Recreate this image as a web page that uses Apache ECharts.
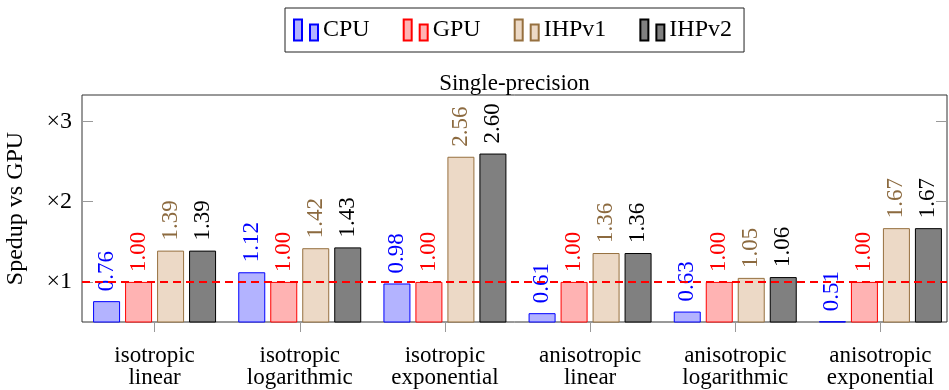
<!DOCTYPE html>
<html>
<head>
<meta charset="utf-8">
<script src="https://cdn.jsdelivr.net/npm/echarts@6/dist/echarts.min.js"></script>
<style>
  html, body { margin: 0; padding: 0; background: #fff; }
  #chart { width: 949px; height: 390px; }
</style>
</head>
<body>
<div id="chart"></div>
<script>
// Speedup relative to the GPU baseline, single-precision runs
const categories = [
  'isotropic\nlinear', 'isotropic\nlogarithmic', 'isotropic\nexponential',
  'anisotropic\nlinear', 'anisotropic\nlogarithmic', 'anisotropic\nexponential'
];
const cpu   = [0.76, 1.12, 0.98, 0.61, 0.63, 0.51];
const gpu   = [1.00, 1.00, 1.00, 1.00, 1.00, 1.00];
const ihpv1 = [1.39, 1.42, 2.56, 1.36, 1.05, 1.67];
const ihpv2 = [1.39, 1.43, 2.60, 1.36, 1.06, 1.67];
const yTicks = [1, 2, 3];
const baseline = 1;

const FONT = 'Liberation Serif';
const Y_MIN = 0.5, Y_MAX = 3.33;

const styles = {
  CPU:   { fill: '#b3b3ff', line: '#0000ff', text: '#0000ff' },
  GPU:   { fill: '#ffb3b3', line: '#ff0000', text: '#ff0000' },
  IHPv1: { fill: '#ecd9c6', line: '#96703f', text: '#8c6a3f' },
  IHPv2: { fill: '#808080', line: '#000000', text: '#000000' }
};

// two-bar glyph used for legend keys
const legendIcon = 'path://M0,0 h8 v21 h-8 z M16,5 h8 v16 h-8 z';

function barSeries(name, data) {
  const s = styles[name];
  return {
    name, type: 'bar', data,
    xAxisIndex: 1, yAxisIndex: 2,
    barWidth: 27, barGap: '18.5%',
    itemStyle: { color: s.fill, borderColor: s.line, borderWidth: 1 },
    label: {
      show: true, position: 'top', rotate: 90, distance: 10,
      align: 'left', verticalAlign: 'middle',
      formatter: p => p.value.toFixed(2),
      color: s.text, fontFamily: FONT, fontSize: 23
    },
    z: 2
  };
}

const chart = echarts.init(document.getElementById('chart'), null, { renderer: 'canvas' });
chart.setOption({
  animation: false,
  backgroundColor: '#fff',
  textStyle: { fontFamily: FONT },
  legend: {
    left: 285, top: 8,
    padding: [10, 12, 10, 8],
    itemGap: 33, itemWidth: 24, itemHeight: 21,
    borderColor: '#222', borderWidth: 1,
    textStyle: { fontFamily: FONT, fontSize: 24, color: '#000' },
    data: ['CPU', 'GPU', 'IHPv1', 'IHPv2'].map(n => ({ name: n, icon: legendIcon }))
  },
  grid: [
    // frame of the plot area
    { left: 82, right: 2, top: 95, bottom: 68, containLabel: false, outerBoundsMode: 'none',
      show: true, borderColor: '#333', borderWidth: 1, backgroundColor: 'transparent' },
    // bar area: category bands laid out slightly wider than the frame
    { left: 82, right: -4, top: 95, bottom: 68, containLabel: false, outerBoundsMode: 'none' }
  ],
  xAxis: [
    {
      gridIndex: 0, type: 'category', position: 'top', data: categories,
      axisLine: { show: false }, axisTick: { show: false }, axisLabel: { show: false },
      name: 'Single-precision', nameLocation: 'middle', nameGap: 0,
      nameTextStyle: { fontFamily: FONT, fontSize: 23, color: '#000', verticalAlign: 'bottom' }
    },
    {
      gridIndex: 1, type: 'category', data: categories,
      axisLine: { show: false },
      axisTick: { show: true, alignWithLabel: true, length: 10, lineStyle: { color: '#999' } },
      axisLabel: { fontFamily: FONT, fontSize: 23, color: '#000', lineHeight: 22, margin: 23, interval: 0 }
    }
  ],
  yAxis: [
    {
      gridIndex: 0, type: 'value', min: Y_MIN, max: Y_MAX,
      axisLine: { show: false }, splitLine: { show: false },
      axisTick: { show: true, inside: true, length: 11, lineStyle: { color: '#999' }, customValues: yTicks },
      axisLabel: { customValues: yTicks, formatter: v => '\u00d7' + v, fontFamily: FONT, fontSize: 24, color: '#000', margin: 10 },
      name: 'Spedup vs GPU', nameLocation: 'middle', nameGap: 54, nameRotate: 90,
      nameTextStyle: { fontFamily: FONT, fontSize: 24, color: '#000' }
    },
    {
      gridIndex: 0, type: 'value', position: 'right', min: Y_MIN, max: Y_MAX,
      axisLine: { show: false }, splitLine: { show: false },
      axisTick: { show: true, inside: true, length: 11, lineStyle: { color: '#999' }, customValues: yTicks },
      axisLabel: { show: false }
    },
    {
      gridIndex: 1, type: 'value', min: Y_MIN, max: Y_MAX, show: false,
      splitLine: { show: false }
    }
  ],
  series: [
    barSeries('CPU', cpu),
    barSeries('GPU', gpu),
    barSeries('IHPv1', ihpv1),
    barSeries('IHPv2', ihpv2),
    {
      // dashed GPU baseline across the frame
      name: 'baseline', type: 'line', xAxisIndex: 0, yAxisIndex: 0,
      data: categories.map(() => null),
      showSymbol: false, silent: true, z: 5,
      markLine: {
        silent: true, symbol: ['none', 'none'], label: { show: false },
        lineStyle: { color: '#ff0000', width: 2, type: [8, 5] },
        data: [{ yAxis: baseline }]
      }
    }
  ]
});
</script>
</body>
</html>
